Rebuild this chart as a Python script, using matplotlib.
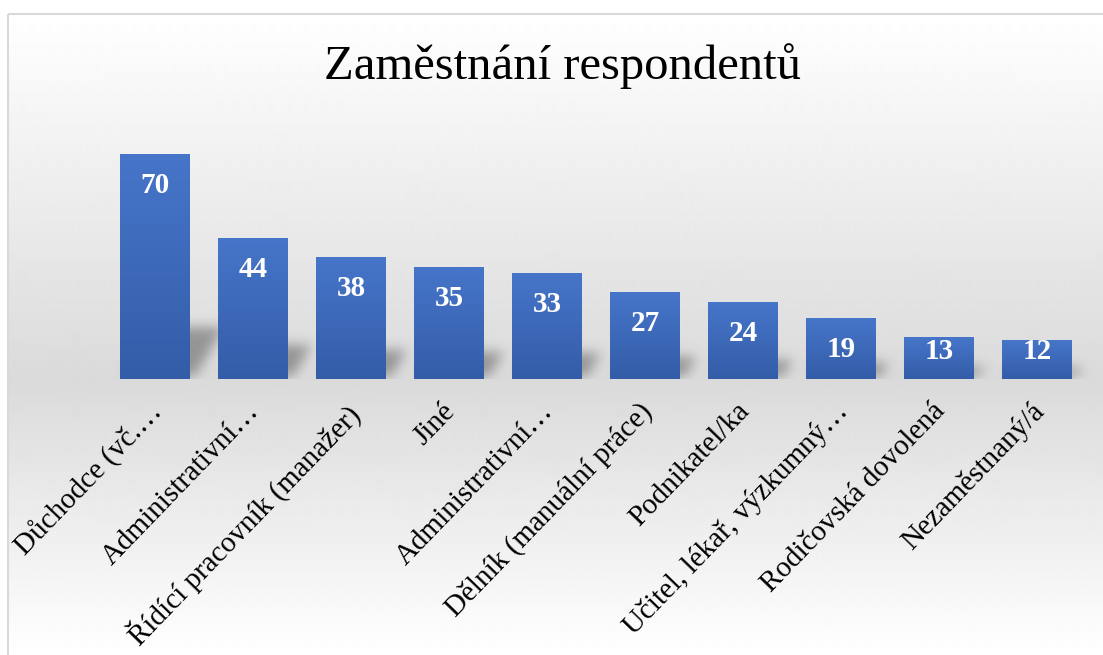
import numpy as np
import matplotlib
matplotlib.use('Agg')
from matplotlib import pyplot as plt
from matplotlib import transforms
from matplotlib.patches import Rectangle

title = 'Zaměstnání respondentů'
categories = ['Důchodce (vč.…', 'Administrativní…', 'Řídící pracovník (manažer)',
              'Jiné', 'Administrativní…', 'Dělník (manuální práce)', 'Podnikatel/ka',
              'Učitel, lékař, výzkumný…', 'Rodičovská dovolená', 'Nezaměstnaný/á']
values = [70, 44, 38, 35, 33, 27, 24, 19, 13, 12]

W, H = 1103, 655
serif = ['Liberation Serif', 'DejaVu Serif']


def gauss_blur(a, sigma):
    k = np.arange(-3 * sigma, 3 * sigma + 1)
    k = np.exp(-k**2 / (2.0 * sigma**2))
    k /= k.sum()
    a = np.apply_along_axis(lambda m: np.convolve(m, k, mode='same'), 0, a)
    a = np.apply_along_axis(lambda m: np.convolve(m, k, mode='same'), 1, a)
    return a


fig = plt.figure(figsize=(W / 100, H / 100), dpi=100)

# background: chart area with vertical gray gradient and thin border
bg = fig.add_axes([0, 0, 1, 1])
bg.set_xlim(0, W)
bg.set_ylim(H, 0)
bg.axis('off')
rows = np.arange(14, H)
shade = np.interp(rows, [14, 380, H], [1.0, 0.855, 1.0])
grad = np.repeat(shade[:, None], 2, axis=1)
bg.imshow(grad, extent=(8, W, H, 14), aspect='auto', cmap='gray',
          vmin=0, vmax=1, interpolation='bilinear')
bg.add_patch(Rectangle((8, 14), W, H, fill=False, edgecolor='#d9d9d9', lw=1.5))
bg.text(562, 66, title, ha='center', va='center', fontsize=35, family=serif)

# plot area
base_px, top_px = 379, 122
left_px, step_px = 106, 98
ax = fig.add_axes([left_px / W, (H - base_px) / H, 10 * step_px / W, (base_px - top_px) / H])
ax.patch.set_alpha(0)
ymax = 80
bar_w = 0.714
x = np.arange(len(values))

# soft perspective shadow behind each bar
px_x = step_px
px_y = (base_px - top_px) / ymax
nx, ny = 10 * step_px + 60, base_px - top_px
sh = np.zeros((ny, nx))
for i, v in enumerate(values):
    L = (i + 0.5 - bar_w / 2) * px_x
    R = L + bar_w * px_x
    hh = int(0.22 * v * px_y)
    for r in range(hh):
        x0 = int(L + r * 0.6 + 6)
        x1 = int(R + r * 0.6 + 6)
        sh[r + 3, x0:x1] = 1
sh = gauss_blur(sh, 6)
rgba = np.zeros((ny, nx, 4))
rgba[..., :3] = 0.3
rgba[..., 3] = 0.5 * sh
ax.imshow(rgba, origin='lower', extent=(-0.5, -0.5 + nx / px_x, 0, ny / px_y),
          aspect='auto', zorder=1, interpolation='bilinear', clip_on=False)

bars = ax.bar(x, values, width=bar_w, color='#3f6bbb', zorder=2)
top_c = np.array([70, 117, 201]) / 255
bot_c = np.array([52, 93, 168]) / 255
t = np.linspace(0, 1, 64)[:, None]
bar_grad = (top_c * (1 - t) + bot_c * t)[:, None, :]
for b, v in zip(bars, values):
    im = ax.imshow(bar_grad, extent=(b.get_x(), b.get_x() + bar_w, 0, v),
                   aspect='auto', zorder=2.5, interpolation='bilinear')
    im.set_clip_path(b)

for i, v in enumerate(values):
    y = max(v - 9.8, 8.6)
    ax.text(i, y, str(v), ha='center', va='center', color='white',
            fontsize=21, fontweight='bold', family=serif, zorder=3)

ax.set_xlim(-0.5, 9.5)
ax.set_ylim(0, ymax)
for s in ax.spines.values():
    s.set_visible(False)
ax.set_xticks([])
ax.set_yticks([])

lab_trans = ax.get_xaxis_transform() + transforms.ScaledTranslation(-7 / 100, -19 / 100, fig.dpi_scale_trans)
for i, lab in enumerate(categories):
    ax.text(i, 0, lab, transform=lab_trans, rotation=46, rotation_mode='anchor',
            ha='right', va='top', fontsize=21, family=serif, clip_on=False)

fig.savefig('out.png', dpi=100)
